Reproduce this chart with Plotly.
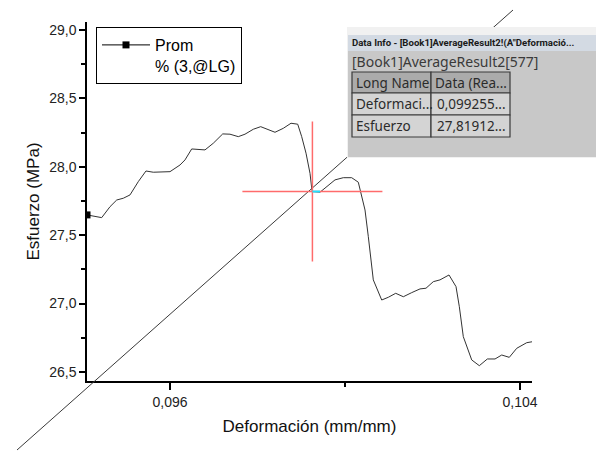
import plotly.graph_objects as go

# ---------------- data ----------------
deformacion = [0.094103, 0.094439, 0.094629, 0.094782, 0.094933, 0.095086, 0.095275, 0.095451,
               0.095618, 0.096000, 0.096229, 0.096343, 0.096496, 0.096800, 0.096990, 0.097205,
               0.097371, 0.097561, 0.097714, 0.097904, 0.098073, 0.098210, 0.098400, 0.098590,
               0.098766, 0.098919, 0.099010, 0.099109, 0.099200, 0.099239, 0.099255, 0.099429,
               0.099771, 0.099961, 0.100153, 0.100304, 0.100457, 0.100533, 0.100587, 0.100647,
               0.100839, 0.100990, 0.101159, 0.101333, 0.101525, 0.101714, 0.101851, 0.102018,
               0.102171, 0.102377, 0.102537, 0.102613, 0.102704, 0.102896, 0.103070, 0.103253,
               0.103429, 0.103582, 0.103755, 0.103925, 0.104153, 0.104281]
esfuerzo = [27.648, 27.628, 27.708, 27.757, 27.770, 27.794, 27.891, 27.969,
            27.960, 27.964, 28.013, 28.050, 28.130, 28.123, 28.172, 28.240,
            28.238, 28.220, 28.238, 28.274, 28.293, 28.274, 28.252, 28.281,
            28.318, 28.311, 28.220, 28.099, 27.952, 27.843, 27.819, 27.814,
            27.904, 27.920, 27.920, 27.887, 27.684, 27.489, 27.319, 27.173,
            27.026, 27.046, 27.075, 27.050, 27.080, 27.107, 27.112, 27.160,
            27.173, 27.209, 27.124, 26.977, 26.758, 26.588, 26.546, 26.595,
            26.595, 26.624, 26.607, 26.673, 26.714, 26.721]
legend_name = "Prom<br>% (3,@LG)"
x_title = "Deformación (mm/mm)"
y_title = "Esfuerzo (MPa)"
info_index = 30                       # point shown by the Data Info reader
info_x = 0.099255
info_y = 27.81912
info_title = 'Data Info - [Book1]AverageResult2!(A"Deformació...'
info_book = "[Book1]AverageResult2[577]"
info_header = ["Long Name", "Data (Rea..."]
info_names = ["Deformaci...", "Esfuerzo"]
info_values = ["0,099255...", "27,81912..."]

# ---------------- layout geometry ----------------
W, H = 596, 453
ML, MR, MT, MB = 87, 64, 22, 72
PW, PH = W - ML - MR, H - MT - MB
x_range = [0.094103, 0.104274]
y_range = [26.434, 29.058]


def px(x):
    return (x - ML) / PW


def py(y):
    return (H - MB - y) / PH


FONT = "Liberation Sans, Arial, sans-serif"
UI = "Noto Sans, Open Sans, sans-serif"

fig = go.Figure()
fig.add_trace(go.Scatter(x=deformacion, y=esfuerzo, mode="lines",
                         line=dict(color="#333333", width=1), showlegend=False,
                         hoverinfo="skip"))
fig.add_trace(go.Scatter(x=deformacion[:1], y=esfuerzo[:1], mode="lines+markers",
                         name=legend_name,
                         line=dict(color="black", width=1),
                         marker=dict(symbol="square", size=7, color="black"),
                         hoverinfo="skip"))

shapes = []
# diagonal reader line (extends beyond the plot)
shapes.append(dict(type="line", xref="paper", yref="paper",
                   x0=px(17), y0=py(450), x1=px(513), y1=py(10),
                   line=dict(color="#3a3a3a", width=1), layer="above"))
# crosshair on the data-info point
dx = 70 * (x_range[1] - x_range[0]) / PW
dy = 70 * (y_range[1] - y_range[0]) / PH
cross = "#ff6b6b"
shapes.append(dict(type="line", xref="x", yref="y", x0=info_x - dx, x1=info_x + dx,
                   y0=info_y, y1=info_y, line=dict(color=cross, width=1.5)))
shapes.append(dict(type="line", xref="x", yref="y", x0=info_x, x1=info_x,
                   y0=info_y - dy, y1=info_y + dy, line=dict(color=cross, width=1.5)))
shapes.append(dict(type="line", xref="x", yref="y",
                   x0=deformacion[info_index], x1=deformacion[info_index + 1],
                   y0=info_y, y1=info_y, line=dict(color="#22e0ff", width=2)))

# Data Info panel
def rect(x0, y0, x1, y1, fill, lc=None, lw=0):
    return dict(type="rect", xref="paper", yref="paper",
                x0=px(x0), x1=px(x1), y0=py(y1), y1=py(y0),
                fillcolor=fill, line=dict(color=lc or fill, width=lw), layer="above")

shapes.append(rect(347, 27, 600, 158, "#f1f1f1"))
shapes.append(rect(348, 35, 600, 157, "#c8c8c8"))
shapes.append(rect(348, 35, 600, 51, "#d3dae3"))
rows = [(72, 93), (93, 115), (115, 137)]
cols = [(352, 431), (431, 510)]
for r, (ya, yb) in enumerate(rows):
    for (xa, xb) in cols:
        shapes.append(rect(xa, ya, xb, yb, "#ababab" if r == 0 else "#d4d4d4",
                           lc="#3a3a3a", lw=1.2))

annotations = []
def txt(t, x, y, size, anchor="left", color="#2b2b2b", bold=False, family=UI):
    annotations.append(dict(text=("<b>%s</b>" % t) if bold else t,
                            xref="paper", yref="paper", x=px(x), y=py(y),
                            xanchor=anchor, yanchor="middle", showarrow=False,
                            font=dict(family=family, size=size, color=color)))

txt(info_title, 350, 43, 9.6, bold=True, color="#1a1a1a", family="Roboto, sans-serif")
txt(info_book, 350, 61, 14, color="#3a3a3a")
txt(info_header[0], 354, 82.5, 13.5)
txt(info_header[1], 433, 82.5, 13.5)
txt(info_names[0], 354, 104, 13.5)
txt(info_values[0], 508, 104, 13.5, anchor="right")
txt(info_names[1], 354, 126, 13.5)
txt(info_values[1], 508, 126, 13.5, anchor="right")

fig.update_layout(
    width=W, height=H,
    margin=dict(l=ML, r=MR, t=MT, b=MB, pad=0),
    paper_bgcolor="white", plot_bgcolor="white",
    separators=",.",
    font=dict(family=FONT, color="#222"),
    shapes=shapes,
    annotations=annotations,
    legend=dict(x=px(96), y=py(27), xanchor="left", yanchor="top",
                bordercolor="black", borderwidth=1, bgcolor="white",
                font=dict(family=FONT, size=16, color="black"),
                itemwidth=48, valign="top"),
    xaxis=dict(range=x_range, showgrid=False, zeroline=False,
               showline=True, linecolor="black", linewidth=1.5,
               ticks="outside", ticklen=7, tickwidth=1.5, tickcolor="black",
               tick0=0.096, dtick=0.008, tickformat=".3f",
               tickfont=dict(family=FONT, size=14, color="#222"),
               minor=dict(dtick=0.004, ticks="outside", ticklen=4, tickwidth=1.5,
                          tickcolor="black"),
               title=dict(text=x_title, font=dict(family=FONT, size=17, color="#111"),
                          standoff=12)),
    yaxis=dict(range=y_range, showgrid=False, zeroline=False,
               showline=True, linecolor="black", linewidth=1.5,
               ticks="outside", ticklen=6, tickwidth=1.5, tickcolor="black",
               tick0=26.5, dtick=0.5, tickformat=".1f",
               tickfont=dict(family=FONT, size=14, color="#222"),
               minor=dict(dtick=0.25, ticks="outside", ticklen=4, tickwidth=1.5,
                          tickcolor="black"),
               title=dict(text=y_title, font=dict(family=FONT, size=17, color="#111"),
                          standoff=5)),
)

fig.write_html("out.html")
